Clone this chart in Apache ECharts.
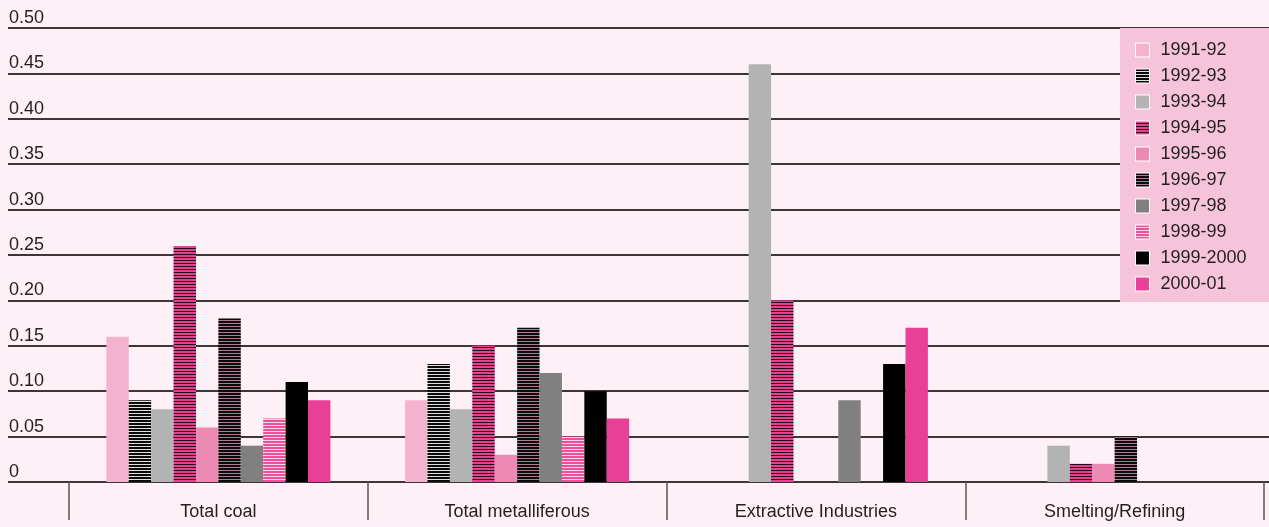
<!DOCTYPE html>
<html><head><meta charset="utf-8">
<script src="https://cdn.jsdelivr.net/npm/echarts@6/dist/echarts.min.js"></script>
<style>html,body{margin:0;padding:0;background:#fdf0f6;}#c{width:1269px;height:527px;}</style>
</head><body><div id="c"></div>
<script>
var categories = ['Total coal', 'Total metalliferous', 'Extractive Industries', 'Smelting/Refining'];
var seriesNames = ['1991-92','1992-93','1993-94','1994-95','1995-96','1996-97','1997-98','1998-99','1999-2000','2000-01'];
var v1991 = [0.16, 0.09, null, null];
var v1992 = [0.09, 0.13, null, null];
var v1993 = [0.08, 0.08, 0.46, 0.04];
var v1994 = [0.26, 0.15, 0.20, 0.02];
var v1995 = [0.06, 0.03, 0, 0.02];
var v1996 = [0.18, 0.17, null, 0.05];
var v1997 = [0.04, 0.12, 0.09, 0];
var v1998 = [0.07, 0.05, null, 0];
var v1999 = [0.11, 0.10, 0.13, 0];
var v2000 = [0.09, 0.07, 0.17, 0];
var yTickLabels = ['0','0.05','0.10','0.15','0.20','0.25','0.30','0.35','0.40','0.45','0.50'];

function stripes(bg, fg){
  var c = document.createElement('canvas'); c.width = 4; c.height = 3;
  var x = c.getContext('2d');
  x.fillStyle = bg; x.fillRect(0,0,4,3);
  x.fillStyle = fg; x.fillRect(0,2,4,1);
  return {image: c, repeat: 'repeat'};
}
var FONT = '"Liberation Sans", Arial, sans-serif';
var colors = [
  '#f3b3cf',
  stripes('#0a0a0a', '#e0e0e0'),
  '#b3b3b3',
  stripes('#e4418e', '#2a0a1a'),
  '#ec8ab4',
  stripes('#0a0a0a', '#b07a92'),
  '#808080',
  stripes('#ee4e9a', '#fbd6e6'),
  '#000000',
  '#e84097'
];
var values = [v1991, v1992, v1993, v1994, v1995, v1996, v1997, v1998, v1999, v2000];

var series = seriesNames.map(function(n, i){
  return {
    name: n, type: 'bar', xAxisIndex: 1, yAxisIndex: 1,
    barGap: 0, barCategoryGap: '25%',
    itemStyle: {color: colors[i]},
    data: values[i]
  };
});

var chart = echarts.init(document.getElementById('c'), null, {renderer: 'canvas'});
chart.setOption({
  animation: false,
  backgroundColor: '#fdf0f6',
  textStyle: {fontFamily: FONT},
  grid: [
    {left: 8, right: 0, top: 28, bottom: 45},
    {left: 69, right: 5, top: 28, bottom: 45}
  ],
  xAxis: [
    {type: 'value', gridIndex: 0, show: false, min: 0, max: 1},
    {type: 'category', gridIndex: 1, data: categories,
     axisLine: {show: false},
     axisTick: {show: true, interval: 0, length: 38, lineStyle: {color: '#555', width: 1.5}},
     axisLabel: {interval: 0, margin: 21, fontSize: 18, color: '#231f20', fontFamily: FONT}}
  ],
  yAxis: [
    {type: 'value', gridIndex: 0, min: 0, max: 0.5, interval: 0.05,
     axisLine: {show: false}, axisTick: {show: false},
     splitLine: {show: true, lineStyle: {color: '#3d3538', width: 2}},
     axisLabel: {inside: true, margin: 1, align: 'left', verticalAlign: 'bottom',
       fontSize: 18, lineHeight: 18, padding: [0,0,1,0], color: '#231f20', fontFamily: FONT,
       formatter: function(v){ return yTickLabels[Math.round(v / 0.05)]; }}},
    {type: 'value', gridIndex: 1, min: 0, max: 0.5, interval: 0.05, show: false}
  ],
  legend: {
    orient: 'vertical', left: 1120, top: 28,
    backgroundColor: '#f6c4da',
    padding: [13, 30, 9, 15],
    itemWidth: 14, itemHeight: 14, itemGap: 8,
    icon: 'rect',
    itemStyle: {borderColor: '#ffffff', borderWidth: 1},
    textStyle: {fontSize: 18, lineHeight: 18, color: '#231f20', fontFamily: FONT, padding: [0,0,0,6]},
    data: seriesNames
  },
  series: series
});
</script>
</body></html>
